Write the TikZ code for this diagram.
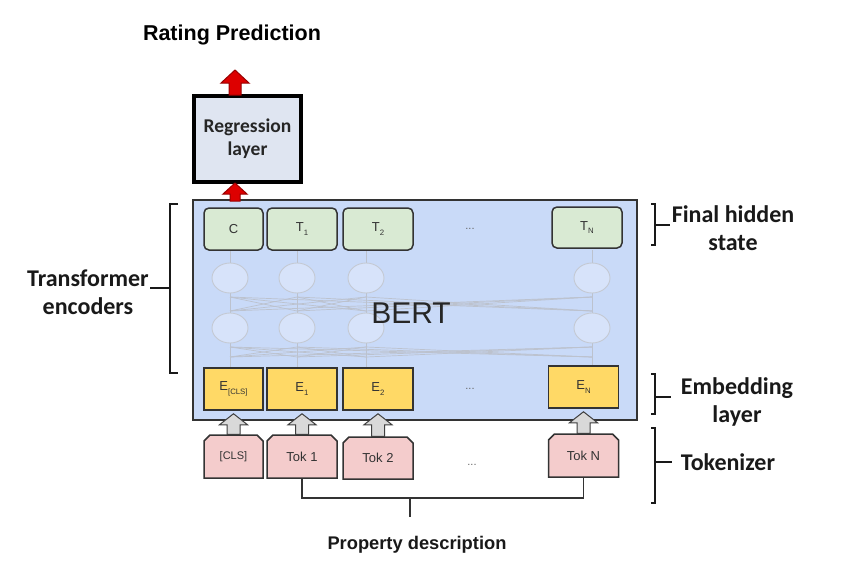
\documentclass[tikz,border=0pt]{standalone}
\usepackage{fontspec}
\setmainfont{Liberation Sans}
\newfontfamily\calfont{Carlito}
\usetikzlibrary{calc,shapes.misc,shapes.geometric}
\definecolor{bertfill}{HTML}{C9DAF8}
\definecolor{regfill}{HTML}{DFE5F1}
\definecolor{greenfill}{HTML}{D9EAD3}
\definecolor{yellowfill}{HTML}{FFD966}
\definecolor{pinkfill}{HTML}{F4CCCC}
\definecolor{faint}{HTML}{BCC2CE}
\definecolor{circline}{HTML}{C4C9D3}
\definecolor{arrowred}{HTML}{DD0000}
\definecolor{arrowgrey}{HTML}{D9D9D9}
\newcommand{\sbs}[1]{\raisebox{-0.55ex}{\scalebox{0.6}{#1}}}
\tikzset{
  box/.style={draw=black!80, line width=1.5pt, inner sep=0pt, font=\fontsize{13}{13}\selectfont, text=black!80},
  tbox/.style={box, fill=greenfill, rounded corners=5pt},
  ebox/.style={box, fill=yellowfill},
  tokbox/.style={box, fill=pinkfill, chamfered rectangle, chamfered rectangle corners={north east, north west}, chamfered rectangle xsep=3pt, chamfered rectangle ysep=3pt},
  lbl/.style={font=\calfont\bfseries\fontsize{24}{28}\selectfont, align=center, inner sep=0pt, text=black!90},
  brace/.style={line width=2pt, black!90},
  faintline/.style={faint, line width=0.7pt},
  circ/.style={draw=circline, fill=bertfill!75!white, line width=0.9pt, ellipse, minimum width=36pt, minimum height=30pt, inner sep=0pt},
}
\begin{document}
\begin{tikzpicture}[x=1pt,y=-1pt]
\useasboundingbox (0,0) rectangle (868,576);
\fill[white] (0,0) rectangle (868,576);

% titles
\node[font=\bfseries\fontsize{21.5}{24}\selectfont, inner sep=0pt] (title) at (232,35) {Rating Prediction};
\node[font=\bfseries\fontsize{18.3}{20}\selectfont, inner sep=0pt, text=black!90] (prop) at (417,545) {Property description};

% regression layer
\node[draw=black, line width=3.5pt, fill=regfill, minimum width=107pt, minimum height=86pt, inner sep=0pt, align=center, font=\calfont\bfseries\fontsize{19.5}{23}\selectfont, text=black!85] (reg) at (247.5,139) {Regression\\layer};

% BERT box
\node[draw=black!80, line width=2pt, fill=bertfill, minimum width=444pt, minimum height=220pt, inner sep=0pt] (bert) at (415,310) {};

% internal faint network
\foreach \x in {230,297,366,592}{
  \draw[faintline] (\x,250) -- (\x,263);
  \draw[faintline] (\x,293) -- (\x,313);
  \draw[faintline] (\x,343) -- (\x,367);
  \foreach \y in {230,297,366,592}{
    \draw[faintline] (\x,297) -- (\y,311);
    \draw[faintline] (\x,347) -- (\y,357);
  }
}
\foreach \x [count=\i] in {230,297,366,592}{
  \node[circ] (ca\i) at (\x,278) {};
  \node[circ] (cb\i) at (\x,328) {};
}
\node[font=\fontsize{30}{30}\selectfont, text=black!85, inner sep=0pt] (berttxt) at (411,313) {BERT};

% top hidden state boxes
\node[tbox, minimum width=59pt, minimum height=42pt] (c) at (233.5,229) {C};
\node[tbox, minimum width=70pt, minimum height=42pt] (t1) at (302,229) {T\sbs{1}};
\node[tbox, minimum width=70pt, minimum height=42pt] (t2) at (378,229) {T\sbs{2}};
\node[inner sep=0pt, font=\fontsize{11}{11}\selectfont, text=black!60] (tdots) at (470,229) {...};
\node[tbox, minimum width=70pt, minimum height=41pt] (tn) at (587,227.5) {T\sbs{N}};

% embedding boxes
\node[ebox, minimum width=59pt, minimum height=42pt] (e0) at (233.5,389) {E\sbs{[CLS]}};
\node[ebox, minimum width=70pt, minimum height=42pt] (e1) at (302,389) {E\sbs{1}};
\node[ebox, minimum width=70pt, minimum height=42pt] (e2) at (378,389) {E\sbs{2}};
\node[inner sep=0pt, font=\fontsize{11}{11}\selectfont, text=black!60] (edots) at (470,389) {...};
\node[ebox, minimum width=70pt, minimum height=42pt] (en) at (583.5,387) {E\sbs{N}};

% token boxes
\node[tokbox, minimum width=59pt, minimum height=43pt, font=\fontsize{11}{11}\selectfont] (k0) at (233.5,456.5) {[CLS]};
\node[tokbox, minimum width=70pt, minimum height=43pt] (k1) at (302,456.5) {Tok 1};
\node[tokbox, minimum width=70pt, minimum height=42pt] (k2) at (378,458) {Tok 2};
\node[inner sep=0pt, font=\fontsize{11}{11}\selectfont, text=black!60] (kdots) at (472,465) {...};
\node[tokbox, minimum width=70pt, minimum height=43pt] (kn) at (583.5,455.5) {Tok N};

% block arrows
\filldraw[fill=arrowred, draw=red!60!black, line width=1pt]
  (229,95) -- (229,83) -- (221,83) -- (235,70) -- (249,83) -- (241,83) -- (241,95) -- cycle;
\filldraw[fill=arrowred, draw=red!60!black, line width=1pt]
  (230,201) -- (230,194) -- (223,194) -- (235,183) -- (247,194) -- (240,194) -- (240,201) -- cycle;
\foreach \k/\e in {k0/e0,k1/e1,k2/e2,kn/en}{
  \filldraw[fill=arrowgrey, draw=black!75, line width=1pt]
    let \p1=(\k.north), \p2=(\e.south) in
    ($(\p1)+(-6.5,0)$) -- ($(\p2)+(-6.5,14)$) -- ($(\p2)+(-14,14)$) -- ($(\p2)+(0,3)$) -- ($(\p2)+(14,14)$) -- ($(\p2)+(6.5,14)$) -- ($(\p1)+(6.5,0)$) -- cycle;
}

% tokens connector
\coordinate (jl) at (k1.south |- 0,498);
\coordinate (jr) at (kn.south |- 0,498);
\coordinate (jm) at (410,498);
\coordinate (jb) at (410,517);
\draw[black!80, line width=1.5pt] (k1.south) -- (jl) -- (jr) -- (kn.south);
\draw[black!80, line width=1.5pt] (jm) -- (jb);

% braces
\draw[brace] (178,204) -- (170,204) -- (170,373) -- (178,373);
\draw[brace] (170,288) -- (150,288);
\node[lbl] (tenc) at (88,292) {Transformer\\encoders};

\draw[brace] (651,204) -- (655,204) -- (655,245) -- (651,245);
\draw[brace] (655,225) -- (670,225);
\node[lbl] (fhs) at (733,228) {Final hidden\\state};

\draw[brace] (651,374) -- (655,374) -- (655,414) -- (651,414);
\draw[brace] (655,397) -- (671,397);
\node[lbl] (emb) at (737,402) {Embedding\\layer};

\draw[brace] (651,428) -- (655,428) -- (655,503) -- (651,503);
\draw[brace] (655,462) -- (672,462);
\node[lbl] (tok) at (728,462) {Tokenizer};
\end{tikzpicture}
\end{document}
